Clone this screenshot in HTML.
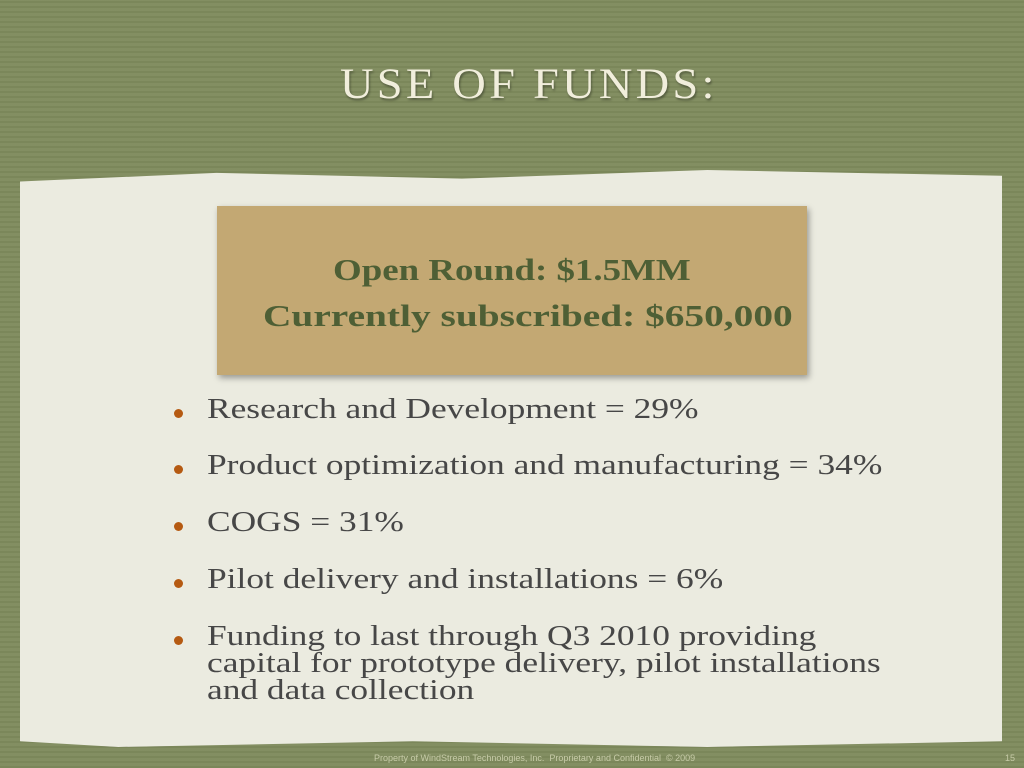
<!DOCTYPE html>
<html><head><meta charset="utf-8"><style>
body{margin:0;width:1024px;height:768px;overflow:hidden;background:#7e8a5c;position:relative;font-family:"Liberation Serif",serif;}
.bg{position:absolute;inset:0;background:repeating-linear-gradient(0deg,rgba(0,0,0,0.03) 0 2px,rgba(255,255,255,0.03) 2px 5px),#7f8b5d;}
#title{position:absolute;left:340px;top:60px;font-size:43px;letter-spacing:3px;color:#f1eedc;text-shadow:1px 2px 2px rgba(0,0,0,0.35);transform:scaleX(1.08);transform-origin:left;white-space:nowrap;}
#paper{position:absolute;left:20px;top:170px;width:982px;height:577px;background:#ebebe0;box-shadow:0 4px 6px rgba(0,0,0,0.4);clip-path:polygon(0 2%,20% 0.5%,45% 1.5%,70% 0,100% 1%,100% 99%,70% 100%,40% 99%,10% 100%,0 99%);}
#box{position:absolute;left:217px;top:206px;width:590px;height:169px;background:#c3a873;box-shadow:2px 3px 6px rgba(0,0,0,0.35);}
.bt{position:absolute;font-weight:bold;font-size:31px;color:#4e5f35;white-space:nowrap;transform:scaleX(1.27);transform-origin:left;}
.li{position:absolute;left:207px;font-size:29px;color:#474747;white-space:nowrap;line-height:27px;transform:scaleX(1.22);transform-origin:left;}
.dot{position:absolute;left:174px;width:9px;height:9px;border-radius:50%;background:#b55a12;}
#foot{position:absolute;left:374px;top:753px;font-family:"Liberation Sans",sans-serif;font-size:9px;color:#c7cba8;}
#pg{position:absolute;left:1005px;top:753px;font-family:"Liberation Sans",sans-serif;font-size:9px;color:#c7cba8;}
</style></head><body>
<div class="bg"></div>
<div id="title">USE OF FUNDS:</div>
<div id="paper"></div>
<div id="box"></div>
<div class="bt" style="left:333px;top:252px;transform:scaleX(1.19)">Open Round: $1.5MM</div>
<div class="bt" style="left:263px;top:298px">Currently subscribed: $650,000</div>
<div class="dot" style="top:409px"></div>
<div class="li" style="top:396px">Research and Development = 29%</div>
<div class="dot" style="top:465px"></div>
<div class="li" style="top:452px">Product optimization and manufacturing = 34%</div>
<div class="dot" style="top:522px"></div>
<div class="li" style="top:509px">COGS = 31%</div>
<div class="dot" style="top:579px"></div>
<div class="li" style="top:566px">Pilot delivery and installations = 6%</div>
<div class="dot" style="top:636px"></div>
<div class="li" style="top:623px">Funding to last through Q3 2010 providing<br>capital for prototype delivery, pilot installations<br>and data collection</div>
<div id="foot">Property of WindStream Technologies, Inc.&nbsp; Proprietary and Confidential &nbsp;© 2009</div>
<div id="pg">15</div>
</body></html>
